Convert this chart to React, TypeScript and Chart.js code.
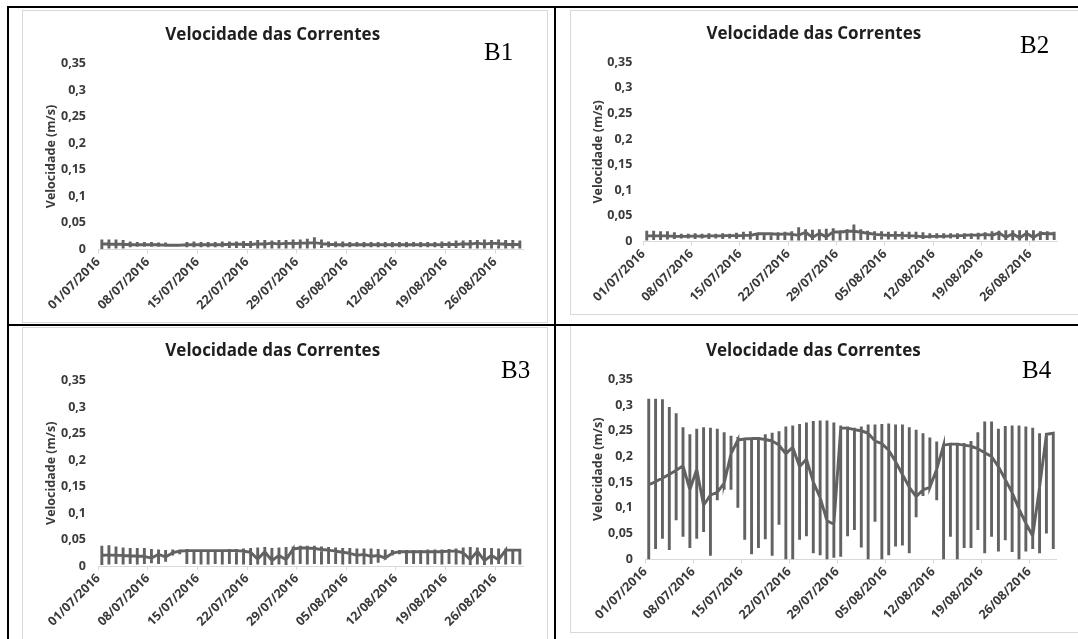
import React, { useEffect, useRef } from 'react';
import { Chart, registerables } from 'chart.js';

Chart.register(...registerables);

// ---------- data ----------
const dateLabels = ['01/07/2016', '08/07/2016', '15/07/2016', '22/07/2016', '29/07/2016', '05/08/2016', '12/08/2016', '19/08/2016', '26/08/2016'];
const dayCount = 60; // 01/07/2016 .. 29/08/2016, one slot per day
const tickStepDays = 7;
const yTickValues = [0, 0.05, 0.1, 0.15, 0.2, 0.25, 0.3, 0.35];
const yTickLabels = ['0', '0,05', '0,1', '0,15', '0,2', '0,25', '0,3', '0,35'];
const chartTitle = 'Velocidade das Correntes';
const yAxisTitle = 'Velocidade (m/s)';

// per day: value at day change (conn), daily maximum, daily minimum
const b1Conn = [0.011,0.01,0.01,0.01,0.009,0.009,0.009,0.009,0.009,0.008,0.008,0.008,0.009,0.009,0.009,0.009,0.009,0.009,0.01,0.01,0.01,0.009,0.011,0.01,0.012,0.01,0.012,0.011,0.012,0.012,0.013,0.011,0.01,0.009,0.009,0.009,0.009,0.009,0.009,0.009,0.009,0.009,0.009,0.009,0.009,0.009,0.009,0.009,0.009,0.01,0.009,0.011,0.01,0.012,0.01,0.012,0.011,0.01,0.009,0.01];
const b1Max = [0.019,0.019,0.019,0.018,0.015,0.014,0.014,0.014,0.013,0.013,0.011,0.011,0.014,0.015,0.014,0.014,0.014,0.015,0.015,0.015,0.016,0.016,0.018,0.018,0.017,0.018,0.018,0.019,0.019,0.02,0.023,0.019,0.015,0.015,0.015,0.014,0.014,0.014,0.014,0.014,0.014,0.014,0.014,0.014,0.014,0.014,0.014,0.014,0.015,0.015,0.017,0.017,0.018,0.018,0.019,0.018,0.019,0.018,0.018,0.017];
const b1Min = [0.001,0.002,0.002,0.002,0.004,0.005,0.005,0.005,0.005,0.006,0.007,0.007,0.004,0.004,0.004,0.004,0.004,0.004,0.003,0.003,0.003,0.003,0.002,0.002,0.002,0.002,0.002,0.002,0.002,0.002,0.002,0.003,0.004,0.004,0.004,0.004,0.005,0.004,0.004,0.004,0.004,0.004,0.004,0.004,0.005,0.004,0.004,0.004,0.003,0.003,0.003,0.003,0.002,0.002,0.002,0.002,0.002,0.002,0.002,0.002];

const b2Conn = [0.011,0.011,0.011,0.011,0.01,0.01,0.01,0.011,0.01,0.011,0.011,0.011,0.012,0.011,0.012,0.012,0.015,0.015,0.015,0.014,0.015,0.014,0.012,0.018,0.008,0.016,0.009,0.019,0.018,0.02,0.02,0.018,0.016,0.014,0.013,0.012,0.012,0.012,0.011,0.011,0.009,0.01,0.01,0.01,0.011,0.011,0.012,0.013,0.012,0.014,0.012,0.017,0.008,0.015,0.007,0.016,0.008,0.016,0.015,0.015];
const b2Max = [0.021,0.021,0.02,0.02,0.018,0.015,0.015,0.016,0.015,0.016,0.015,0.016,0.015,0.017,0.019,0.02,0.017,0.017,0.017,0.018,0.019,0.02,0.028,0.024,0.023,0.024,0.025,0.026,0.022,0.024,0.033,0.024,0.021,0.02,0.02,0.019,0.02,0.019,0.019,0.019,0.018,0.016,0.016,0.016,0.016,0.016,0.016,0.016,0.017,0.018,0.02,0.021,0.022,0.022,0.022,0.022,0.022,0.02,0.02,0.019];
const b2Min = [0.002,0.003,0.003,0.004,0.005,0.006,0.006,0.005,0.006,0.005,0.006,0.005,0.006,0.005,0.004,0.004,0.003,0.003,0.003,0.003,0.003,0.002,0.002,0.002,0.003,0.002,0.003,0.002,0.002,0.003,0.002,0.003,0.003,0.003,0.004,0.004,0.004,0.004,0.005,0.005,0.005,0.006,0.006,0.006,0.006,0.005,0.005,0.005,0.004,0.004,0.003,0.003,0.003,0.002,0.002,0.002,0.002,0.003,0.003,0.003];

const b3Conn = [0.02,0.021,0.02,0.02,0.019,0.019,0.018,0.015,0.022,0.017,0.025,0.028,0.029,0.029,0.029,0.029,0.029,0.029,0.029,0.029,0.028,0.026,0.013,0.027,0.01,0.02,0.012,0.032,0.034,0.034,0.033,0.031,0.03,0.028,0.026,0.024,0.02,0.022,0.018,0.02,0.015,0.024,0.027,0.027,0.027,0.027,0.027,0.027,0.027,0.028,0.028,0.025,0.012,0.028,0.01,0.02,0.012,0.03,0.03,0.03];
const b3Max = [0.038,0.039,0.037,0.035,0.034,0.034,0.034,0.032,0.031,0.03,0.031,0.031,0.032,0.031,0.031,0.031,0.031,0.031,0.032,0.032,0.033,0.034,0.035,0.036,0.034,0.035,0.036,0.037,0.038,0.038,0.038,0.037,0.036,0.035,0.034,0.034,0.033,0.033,0.033,0.032,0.031,0.03,0.03,0.03,0.03,0.03,0.031,0.031,0.031,0.032,0.033,0.035,0.036,0.035,0.034,0.034,0.033,0.033,0.032,0.032];
const b3Min = [0.002,0.003,0.004,0.003,0.004,0.003,0.004,0.005,0.004,0.008,0.02,0.022,0.004,0.004,0.003,0.003,0.004,0.003,0.004,0.003,0.003,0.002,0.003,0.002,0.002,0.003,0.002,0.003,0.004,0.003,0.004,0.003,0.004,0.004,0.003,0.004,0.004,0.003,0.004,0.006,0.012,0.02,0.022,0.004,0.004,0.004,0.003,0.004,0.003,0.004,0.003,0.003,0.002,0.003,0.002,0.003,0.004,0.003,0.004,0.003];

const b4Conn = [0.145,0.151,0.158,0.165,0.173,0.182,0.135,0.175,0.105,0.125,0.13,0.148,0.205,0.232,0.234,0.235,0.235,0.233,0.23,0.222,0.205,0.218,0.18,0.195,0.15,0.12,0.075,0.068,0.255,0.255,0.252,0.25,0.245,0.23,0.225,0.212,0.19,0.165,0.14,0.122,0.135,0.14,0.175,0.222,0.224,0.224,0.222,0.22,0.215,0.207,0.2,0.18,0.155,0.13,0.098,0.07,0.045,0.14,0.243,0.245];
const b4Max = [0.312,0.312,0.311,0.296,0.284,0.257,0.243,0.254,0.257,0.256,0.254,0.247,0.24,0.238,0.236,0.237,0.238,0.243,0.246,0.249,0.258,0.26,0.263,0.266,0.269,0.27,0.27,0.266,0.26,0.258,0.256,0.258,0.262,0.262,0.263,0.264,0.262,0.262,0.257,0.252,0.245,0.237,0.229,0.224,0.224,0.225,0.226,0.23,0.247,0.268,0.268,0.254,0.259,0.26,0.26,0.258,0.256,0.245,0.243,0.246];
const b4Min = [0,0.02,0.04,0.018,0.076,0.044,0.022,0.04,0.053,0.007,0.115,0.135,0.135,0.1,0.038,0.01,0.022,0.039,0.007,0.067,0,0,0.038,0.045,0.012,0.008,0,0.003,0.005,0.045,0.057,0.023,0,0.073,0,0.008,0.025,0.027,0.012,0.082,0.123,0.14,0.115,0,0.044,0,0.022,0.022,0.057,0.012,0.044,0.015,0.037,0.014,0,0.015,0.02,0.012,0.05,0.02];

// ---------- helpers ----------
function buildPoints(conn: number[], max: number[], min: number[]) {
  const pts: { x: number; y: number }[] = [];
  for (let i = 0; i < conn.length; i++) {
    const x = i + 0.5; // centre of the day's slot
    pts.push({ x, y: conn[i] }, { x, y: max[i] }, { x, y: min[i] }, { x, y: conn[i] });
  }
  return pts;
}

const FONT = '"Open Sans", Lato, sans-serif';
const LINE_COLOR = '#626262';
const TEXT_COLOR = '#3a3a3a';
const TITLE_SIZE = 17;
const AXIS_SIZE = 12.5;

type Geo = {
  box: { left: number; top: number; width: number; height: number };
  plot: { left: number; right: number; top: number; bottom: number };
  titleCY: number;
  yTitleCX: number;
  yLabelRight: number;
};

function Panel({ geo, conn, max, min }: { geo: Geo; conn: number[]; max: number[]; min: number[] }) {
  const ref = useRef<HTMLCanvasElement | null>(null);
  useEffect(() => {
    if (!ref.current) return;
    const { box, plot } = geo;
    const relLeft = plot.left - box.left;
    const relRight = plot.right - box.left;
    const relTop = plot.top - box.top;
    const relBottom = plot.bottom - box.top;
    const titleLH = TITLE_SIZE * 1.2;
    const titlePadTop = geo.titleCY - box.top - titleLH / 2;
    const titlePadBottom = relTop - titlePadTop - titleLH;
    const axisLH = AXIS_SIZE * 1.2;
    const yTitlePad = geo.yTitleCX - box.left - axisLH / 2;
    const yTickPad = relLeft - (geo.yLabelRight - box.left);
    const xAxisHeight = box.height - relBottom;

    const chart = new Chart(ref.current, {
      type: 'line',
      data: {
        datasets: [
          {
            data: buildPoints(conn, max, min),
            borderColor: LINE_COLOR,
            borderWidth: 2.9,
            pointRadius: 0,
            fill: false,
            tension: 0,
            clip: false as any,
          },
        ],
      },
      options: {
        animation: false,
        responsive: false,
        devicePixelRatio: 1,
        events: [],
        layout: { padding: { left: 0, right: box.width - relRight, top: 0, bottom: 0 } },
        plugins: {
          legend: { display: false },
          tooltip: { enabled: false },
          title: {
            display: true,
            text: chartTitle,
            color: '#1f1f1f',
            font: { family: FONT, size: TITLE_SIZE, weight: 'bold' },
            padding: { top: titlePadTop, bottom: titlePadBottom },
          },
        },
        scales: {
          x: {
            type: 'linear',
            min: 0,
            max: dayCount,
            afterBuildTicks: (s: any) => {
              s.ticks = dateLabels.map((_, k) => ({ value: k * tickStepDays }));
            },
            afterFit: (s: any) => {
              s.height = xAxisHeight;
            },
            ticks: {
              autoSkip: false,
              minRotation: 45,
              maxRotation: 45,
              padding: 1,
              color: TEXT_COLOR,
              font: { family: FONT, size: AXIS_SIZE, weight: 'bold' },
              callback: (_v: any, i: number) => dateLabels[i],
            },
            grid: { display: true, drawOnChartArea: false, drawTicks: true, tickLength: 4, color: '#d9d9d9' },
            border: { display: true, color: '#d9d9d9', width: 1 },
          },
          y: {
            type: 'linear',
            min: 0,
            max: 0.35,
            afterBuildTicks: (s: any) => {
              s.ticks = yTickValues.map((v) => ({ value: v }));
            },
            afterFit: (s: any) => {
              s.width = relLeft;
            },
            ticks: {
              padding: yTickPad,
              color: TEXT_COLOR,
              font: { family: FONT, size: AXIS_SIZE, weight: 'bold' },
              callback: (_v: any, i: number) => yTickLabels[i],
            },
            grid: { display: false, drawTicks: false, tickLength: 0 },
            border: { display: false },
            title: {
              display: true,
              text: yAxisTitle,
              color: TEXT_COLOR,
              font: { family: FONT, size: AXIS_SIZE, weight: 'bold' },
              padding: { top: yTitlePad, bottom: 0 },
            },
          },
        },
      } as any,
    });
    return () => chart.destroy();
  }, []);
  const { box } = geo;
  return (
    <canvas
      ref={ref}
      width={box.width}
      height={box.height}
      style={{ position: 'absolute', left: box.left, top: box.top, width: box.width, height: box.height }}
    />
  );
}

const geoB1: Geo = {
  box: { left: 22, top: 10, width: 523, height: 312 },
  plot: { left: 98.3, right: 523.4, top: 63.5, bottom: 249.5 },
  titleCY: 34.7,
  yTitleCX: 51,
  yLabelRight: 86,
};
const geoB2: Geo = {
  box: { left: 570, top: 10, width: 508, height: 304 },
  plot: { left: 643.3, right: 1057.6, top: 62.3, bottom: 241.5 },
  titleCY: 34.5,
  yTitleCX: 598,
  yLabelRight: 632.3,
};
const geoB3: Geo = {
  box: { left: 22, top: 327, width: 523, height: 312 },
  plot: { left: 98.3, right: 523.4, top: 380.5, bottom: 566 },
  titleCY: 351.2,
  yTitleCX: 51,
  yLabelRight: 86,
};
const geoB4: Geo = {
  box: { left: 570, top: 325, width: 508, height: 307 },
  plot: { left: 645.3, right: 1056.7, top: 379.3, bottom: 559.3 },
  titleCY: 351,
  yTitleCX: 598,
  yLabelRight: 633,
};

const panelTags = [
  { text: 'B1', left: 484, top: 39 },
  { text: 'B2', left: 1020, top: 32.3 },
  { text: 'B3', left: 501, top: 357.3 },
  { text: 'B4', left: 1022, top: 357.3 },
];

function Rect({ l, t, w, h, c }: { l: number; t: number; w: number; h: number; c: string }) {
  return <div style={{ position: 'absolute', left: l, top: t, width: w, height: h, background: c }} />;
}

function FrameBox({ l, t, w, h }: { l: number; t: number; w: number; h: number }) {
  return (
    <div
      style={{ position: 'absolute', left: l, top: t, width: w, height: h, border: '1px solid #d9d9d9', boxSizing: 'border-box' }}
    />
  );
}

export default function App() {
  return (
    <div style={{ position: 'absolute', left: 0, top: 0, width: 1078, height: 639, overflow: 'hidden', background: '#fff' }}>
      <FrameBox l={22} t={10} w={526} h={313} />
      <FrameBox l={570} t={10} w={520} h={305} />
      <FrameBox l={22} t={327} w={526} h={330} />
      <FrameBox l={570} t={325} w={520} h={308} />
      <Panel geo={geoB1} conn={b1Conn} max={b1Max} min={b1Min} />
      <Panel geo={geoB2} conn={b2Conn} max={b2Max} min={b2Min} />
      <Panel geo={geoB3} conn={b3Conn} max={b3Max} min={b3Min} />
      <Panel geo={geoB4} conn={b4Conn} max={b4Max} min={b4Min} />
      {panelTags.map((p) => (
        <div
          key={p.text}
          style={{
            position: 'absolute',
            left: p.left,
            top: p.top,
            fontFamily: '"Liberation Serif", "Times New Roman", serif',
            fontSize: 25,
            lineHeight: '25px',
            color: '#000',
            whiteSpace: 'nowrap',
          }}
        >
          {p.text}
        </div>
      ))}
      <Rect l={7} t={6} w={1071} h={2} c="#000" />
      <Rect l={7} t={6} w={2} h={633} c="#000" />
      <Rect l={554} t={6} w={2} h={633} c="#000" />
      <Rect l={7} t={324} w={1071} h={2} c="#000" />
    </div>
  );
}
